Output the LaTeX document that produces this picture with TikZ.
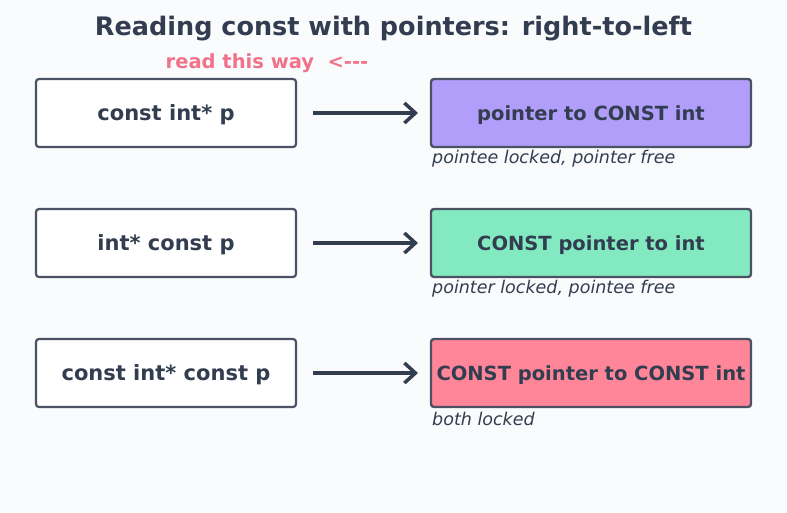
\documentclass[tikz,border=0pt]{standalone}
\usepackage{fontspec}
\setmainfont{DejaVu Sans}
\usepackage{tikz}
\usetikzlibrary{arrows.meta}
\definecolor{ink}{HTML}{333D50}
\definecolor{edge}{HTML}{4B5263}
\definecolor{bg}{HTML}{FAFBFD}
\definecolor{lav}{HTML}{B19DFA}
\definecolor{mint}{HTML}{82E9C1}
\definecolor{rose}{HTML}{FF8598}
\definecolor{hint}{HTML}{F0738A}
\tikzset{
	decl/.style={draw=edge, line width=2.2pt, rounded corners=3pt, fill=white, minimum width=260pt, minimum height=68pt, inner sep=0pt, text depth=0pt, text=ink, font=\fontsize{21}{25}\selectfont\bfseries},
	meaning/.style={draw=edge, line width=2.4pt, rounded corners=3pt, minimum width=320pt, minimum height=68pt, inner sep=0pt, text depth=0pt, text=ink, font=\fontsize{19.5}{23}\selectfont\bfseries},
	note/.style={anchor=west, inner sep=0pt, text=ink, font=\fontsize{17.5}{21}\selectfont\itshape},
	reads/.style={draw=ink, line width=3.5pt, -{Straight Barb[length=11pt, width=20pt, line width=3.5pt]}}
}
\begin{document}
\begin{tikzpicture}[x=1pt, y=-1pt]
	\fill [bg] (0,0) rectangle (787,512);
	\useasboundingbox (0,0) rectangle (787,512);
	\node [text=ink, font=\fontsize{25.5}{30}\selectfont\bfseries] (title) at (393.5,28.5) {Reading const with pointers: right-to-left};
	\node [text=hint, font=\fontsize{19.5}{23}\selectfont\bfseries] (hint) at (267,63.5) {read this way\ \ <{-}{-}{-}};
	% first row
	\node [decl] (d1) at (166,113) {const int* p};
	\node [meaning, fill=lav] (m1) at (591,113) {pointer to CONST int};
	\draw [reads] (313,113) coordinate (s1) -- (418,113) coordinate (e1);
	\node [note] (n1) at (432,158.5) {pointee locked, pointer free};
	% second row
	\node [decl] (d2) at (166,243) {int* const p};
	\node [meaning, fill=mint] (m2) at (591,243) {CONST pointer to int};
	\draw [reads] (313,243) coordinate (s2) -- (418,243) coordinate (e2);
	\node [note] (n2) at (432,288.5) {pointer locked, pointee free};
	% third row
	\node [decl] (d3) at (166,373) {const int* const p};
	\node [meaning, fill=rose] (m3) at (591,373) {CONST pointer to CONST int};
	\draw [reads] (313,373) coordinate (s3) -- (418,373) coordinate (e3);
	\node [note] (n3) at (432,418.5) {both locked};
\end{tikzpicture}
\end{document}
